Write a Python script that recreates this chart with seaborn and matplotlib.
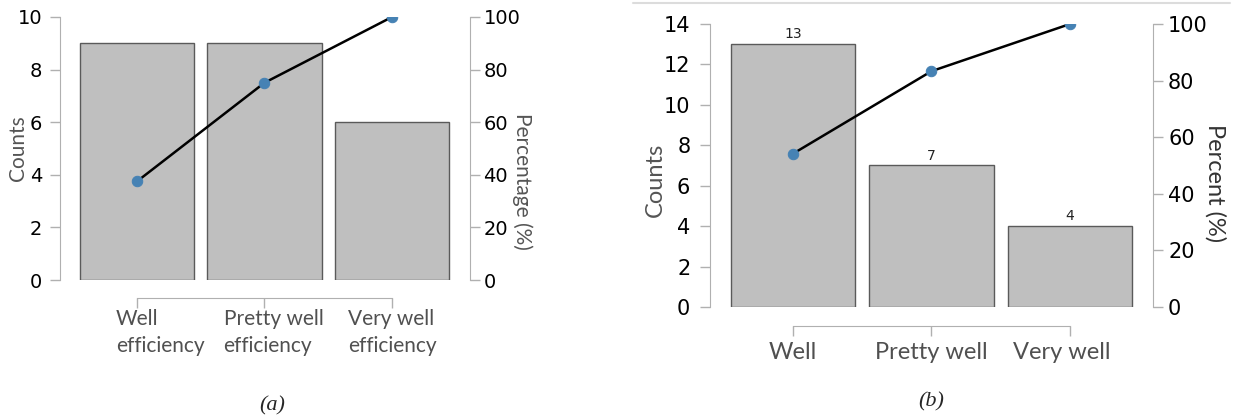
import numpy as np
import pandas as pd
import matplotlib
matplotlib.use("Agg")
import matplotlib.pyplot as plt
import matplotlib.transforms as mtransforms
from matplotlib.lines import Line2D
import seaborn as sns

# ---------------- data ----------------
cats_a = ["Well\nefficiency", "Pretty well\nefficiency", "Very well\nefficiency"]
counts_a = [9, 9, 6]
pct_a = [37.5, 75.0, 100.0]

cats_b = ["Well", "Pretty well", "Very well"]
counts_b = [13, 7, 4]
pct_b = [54.17, 83.33, 100.0]

count_ticks_a = [0, 2, 4, 6, 8, 10]
count_ticks_b = [0, 2, 4, 6, 8, 10, 12, 14]
pct_ticks = [0, 20, 40, 60, 80, 100]

sns.set_style("ticks")
plt.rcParams["font.family"] = ["DejaVu Sans"]

W, H = 1235, 420
fig = plt.figure(figsize=(W / 100, H / 100), dpi=100)


def px_axes(l, r, top, bot):
    return fig.add_axes([l / W, 1 - bot / H, (r - l) / W, (bot - top) / H])


SPINE = "#b0b0b0"
BAR = "#bfbfbf"
EDGE = "#5a5a5a"
DOT = "#4682b4"


def panel(ax, cats, counts, pct, yticks, xlim, numsize, ticksize, lab_size,
          tick_pad_l, tick_pad_r, xpad, bottom_offset, label_pos, pct_label,
          pct_color, shifts, annotate):
    df = pd.DataFrame({"cat": cats, "count": counts})
    sns.barplot(data=df, x="cat", y="count", ax=ax, color=BAR, saturation=1,
                edgecolor=EDGE, linewidth=1.0, width=0.9)
    ax.set_xlim(*xlim)
    ax.set_ylim(0, yticks[-1])
    ax.set_yticks(yticks)
    ax.set_xlabel("")
    ax.set_ylabel("Counts", fontfamily="Lato", fontsize=lab_size, color="#555555",
                  va="center")
    ax.yaxis.set_label_coords(*label_pos[0])
    for s in ["top", "right"]:
        ax.spines[s].set_visible(False)
    ax.spines["left"].set_color(SPINE)
    ax.spines["bottom"].set_color(SPINE)
    ax.spines["bottom"].set_position(("outward", bottom_offset))
    ax.spines["bottom"].set_bounds(0, len(cats) - 1)
    ax.tick_params(axis="y", length=7.2, width=1, color=SPINE, labelsize=numsize,
                   labelcolor="black", pad=tick_pad_l)
    ax.tick_params(axis="x", length=7.2, width=1, color=SPINE, pad=xpad)
    for lbl in ax.get_xticklabels():
        lbl.set_fontfamily("Lato")
        lbl.set_fontsize(ticksize)
        lbl.set_color("#505050")
        lbl.set_multialignment("left")
        lbl.set_linespacing(1.45)
    if annotate:
        ax.bar_label(ax.containers[0], fontsize=10, padding=2, color="#222222")

    ax2 = ax.twinx()
    x = np.arange(len(cats))
    sns.lineplot(x=x, y=pct, ax=ax2, color="black", linewidth=1.8, marker="o",
                 markersize=7.5, markerfacecolor=DOT, markeredgecolor=DOT)
    ax2.set_ylim(0, 100)
    ax2.set_yticks(pct_ticks)
    for s in ["top", "left", "bottom"]:
        ax2.spines[s].set_visible(False)
    ax2.spines["right"].set_color(SPINE)
    ax2.tick_params(axis="y", length=7.2, width=1, color=SPINE, labelsize=numsize,
                    labelcolor="black", pad=tick_pad_r)
    ax2.set_ylabel(pct_label, fontfamily="Lato", fontsize=lab_size, color=pct_color,
                   rotation=270, va="center")
    ax2.yaxis.set_label_coords(*label_pos[1])
    ax.set_xlim(*xlim)
    for lbl, dx in zip(ax.get_xticklabels(), shifts):
        lbl.set_transform(lbl.get_transform() +
                          mtransforms.ScaledTranslation(dx / 100, 0, fig.dpi_scale_trans))
    return ax2


# panel (a)
axa = px_axes(60, 470, 17, 280)
panel(axa, cats_a, counts_a, pct_a, count_ticks_a, (-0.604, 2.612), 14, 15, 15,
      5.5, 2.5, 0.5, 13, [(-0.102, 0.5), (1.127, 0.373)], "Percentage (%)",
      "#555555", [23, 9, 0], False)

# panel (b)
axb = px_axes(710, 1153, 24, 307)
panel(axb, cats_b, counts_b, pct_b, count_ticks_b, (-0.599, 2.599), 15, 17, 17,
      7, 3.6, 4, 14, [(-0.124, 0.449), (1.14, 0.438)], "Percent (%)",
      "#333333", [0, 0, -8], True)

# frame line on top of panel (b)
fig.add_artist(Line2D([633 / W, 1230 / W], [1 - 3 / H, 1 - 3 / H],
                      color="#dcdcdc", linewidth=1.5))

# captions
fig.text(272 / W, 1 - 406 / H, "(a)", fontfamily="Liberation Serif", style="italic",
         fontsize=16, ha="center", va="center")
fig.text(931 / W, 1 - 402 / H, "(b)", fontfamily="Liberation Serif", style="italic",
         fontsize=16, ha="center", va="center")

fig.savefig("out.png", dpi=100)
